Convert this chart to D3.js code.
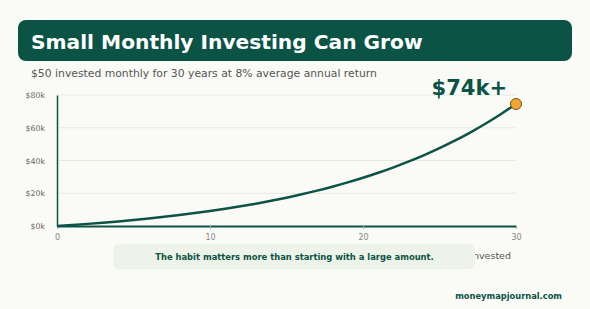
<!DOCTYPE html>
<html><head><meta charset="utf-8">
<script src="https://cdn.jsdelivr.net/npm/d3@7"></script>
<style>html,body{margin:0;padding:0;background:#fafaf6;}svg{display:block;font-family:"DejaVu Sans",sans-serif;}</style>
</head><body>
<svg id="c" width="590" height="309"></svg>
<script>
const title = "Small Monthly Investing Can Grow";
const subtitle = "$50 invested monthly for 30 years at 8% average annual return";
const years = [0,1,2,3,4,5,6,7,8,9,10,11,12,13,14,15,16,17,18,19,20,21,22,23,24,25,26,27,28,29,30];
const balance = [0,622,1297,2027,2818,3674,4601,5606,6694,7872,9147,10529,12026,13646,15401,17302,19361,21590,24005,26619,29451,32518,35840,39437,43333,47552,52121,57070,62429,68233,74519];
const yTicks = [0,20000,40000,60000,80000];
const xTicks = [0,10,20,30];
const endLabel = "$74k+";
const xLabel = "Years invested";
const note = "The habit matters more than starting with a large amount.";
const footer = "moneymapjournal.com";

const green = "#0b5345";
const svg = d3.select("#c");
const x = d3.scaleLinear().domain([0,30]).range([57,516]);
const y = d3.scaleLinear().domain([0,80000]).range([226,95]);

// title box
svg.append("rect").attr("x",18).attr("y",20).attr("width",554).attr("height",41).attr("rx",8).attr("fill",green);
svg.append("text").attr("x",31).attr("y",49).attr("fill","#fff").attr("font-size",20.2).attr("font-weight","bold").text(title);
svg.append("text").attr("x",31).attr("y",77).attr("fill","#555").attr("font-size",10.8).text(subtitle);

// grid
svg.append("g").selectAll("line").data(yTicks.slice(1)).join("line")
  .attr("x1",57).attr("x2",516).attr("y1",d=>y(d)).attr("y2",d=>y(d))
  .attr("stroke","#e4ecdc").attr("stroke-width",1);

// axes
const yAxis = svg.append("g").attr("transform","translate(57,0)")
  .call(d3.axisLeft(y).tickValues(yTicks).tickSize(0).tickPadding(12).tickFormat(d=>"$"+(d/1000)+"k"));
yAxis.select(".domain").attr("stroke",green).attr("stroke-width",1.5);
yAxis.selectAll("text").attr("fill","#666").attr("font-size",7.8).attr("font-family","DejaVu Sans");

const xAxis = svg.append("g").attr("transform","translate(0,226)")
  .call(d3.axisBottom(x).tickValues(xTicks).tickSize(3).tickSizeOuter(0).tickPadding(5).tickFormat(d3.format("d")));
xAxis.select(".domain").attr("stroke",green).attr("stroke-width",2);
xAxis.selectAll(".tick line").attr("stroke","#aaa");
xAxis.selectAll("text").attr("fill","#888").attr("font-size",8).attr("font-family","DejaVu Sans");

svg.append("text").attr("x",511).attr("y",259).attr("text-anchor","end").attr("fill","#555").attr("font-size",9.5).text(xLabel);

// line
const line = d3.line().x((d,i)=>x(years[i])).y(d=>y(d)).curve(d3.curveMonotoneX);
svg.append("path").datum(balance).attr("d",line).attr("fill","none").attr("stroke",green).attr("stroke-width",2.5);

// end point
svg.append("circle").attr("cx",x(30)).attr("cy",y(balance[30])).attr("r",5.5).attr("fill","#f2a72e").attr("stroke","#6b5418").attr("stroke-width",1);
svg.append("text").attr("x",x(30)-9).attr("y",95).attr("text-anchor","end").attr("fill",green).attr("font-size",21).attr("font-weight","bold").text(endLabel);

// note box
svg.append("rect").attr("x",113).attr("y",244).attr("width",362).attr("height",25).attr("rx",6).attr("fill","#eef3ea");
svg.append("text").attr("x",294.5).attr("y",259.5).attr("text-anchor","middle").attr("fill",green).attr("font-size",8.4).attr("font-weight","bold").text(note);

svg.append("text").attr("x",562).attr("y",299).attr("text-anchor","end").attr("fill",green).attr("font-size",8.3).attr("font-weight","bold").text(footer);
</script>
</body></html>
